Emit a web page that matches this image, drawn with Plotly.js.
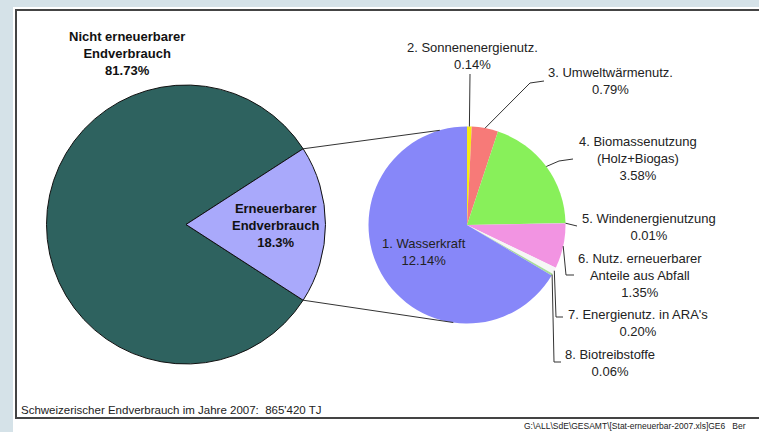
<!DOCTYPE html>
<html><head><meta charset="utf-8">
<script src="https://cdn.plot.ly/plotly-3.0.1.min.js"></script>
<style>html,body{margin:0;padding:0;background:#d5e2e8;overflow:hidden;}#chart{width:759px;height:432px;}</style>
</head><body><div id="chart"></div>
<script>
// ---- data ----
const mainLabels = ['Nicht erneuerbarer<br>Endverbrauch', 'Erneuerbarer<br>Endverbrauch'];
const mainValues = [81.73, 18.27];
const mainPctText = ['81.73%', '18.3%'];
const mainColors = ['#2e625f', '#a9a9fb'];

const subLabels = ['2. Sonnenenergienutz.', '3. Umweltwärmenutz.', '4. Biomassenutzung<br>(Holz+Biogas)',
  '5. Windenergienutzung', '6. Nutz. erneuerbarer<br>Anteile aus Abfall', "7. Energienutz. in ARA's",
  '8. Biotreibstoffe', '1. Wasserkraft'];
const subValues = [0.14, 0.79, 3.58, 0.01, 1.35, 0.20, 0.06, 12.14];
const subColors = ['#f6ec10', '#f77a78', '#88f05a', '#c0c0c0', '#f294e2', '#f6f6f6', '#a6dc98', '#8787f9'];

const noteText = "Schweizerischer Endverbrauch im Jahre 2007:  865'420 TJ";
const footText = "G:\\ALL\\SdE\\GESAMT\\[Stat-erneuerbar-2007.xls]GE6   Ber";

// ---- geometry (pixels) ----
const W = 759, H = 432;
const L = {cx: 186, cy: 224.5, r: 139.5};
const R = {cx: 467, cy: 225, r: 98.5};
function dom(c) {
  return {x: [(c.cx - c.r) / W, (c.cx + c.r) / W], y: [(H - c.cy - c.r) / H, (H - c.cy + c.r) / H]};
}
function rim(c, deg, k) { const a = deg * Math.PI / 180; const rr = c.r * (k || 1);
  return [c.cx + rr * Math.sin(a), c.cy - rr * Math.cos(a)]; }

const mainTotal = mainValues.reduce((a, b) => a + b, 0);
const renewSpan = mainValues[1] / mainTotal * 360;
// first slice (non-renewable) starts below the renewable wedge, which is centred at 3 o'clock
const mainRot = 90 + renewSpan / 2;

const subTotal = subValues.reduce((a, b) => a + b, 0);
const subMid = []; let acc = 0;
subValues.forEach(v => { subMid.push((acc + v / 2) / subTotal * 360); acc += v; });

const traces = [
  {type: 'pie', values: mainValues, labels: ['Nicht erneuerbarer Endverbrauch', 'Erneuerbarer Endverbrauch'],
   sort: false, direction: 'clockwise', rotation: mainRot, domain: dom(L),
   marker: {colors: mainColors, line: {color: '#111', width: 1}}, textinfo: 'none', hoverinfo: 'label+percent', showlegend: false},
  {type: 'pie', values: subValues, labels: subLabels.map(s => s.replace('<br>', ' ')),
   sort: false, direction: 'clockwise', rotation: 0, domain: dom(R),
   marker: {colors: subColors, line: {color: 'rgba(0,0,0,0)', width: 0}}, textinfo: 'none', hoverinfo: 'label+value', showlegend: false}
];

const shapes = [
  {type: 'rect', xref: 'x', yref: 'y', x0: 13, x1: 770, y0: 7, y1: 440, fillcolor: '#ffffff', line: {width: 0}, layer: 'below'},
  {type: 'rect', xref: 'x', yref: 'y', x0: 16, x1: 770, y0: 10, y1: 418, fillcolor: 'rgba(0,0,0,0)', line: {color: '#444', width: 2}, layer: 'below'}
];
function seg(pts, w) {
  let p = 'M' + pts.map(q => q[0].toFixed(1) + ',' + q[1].toFixed(1)).join(' L');
  shapes.push({type: 'path', xref: 'x', yref: 'y', path: p, line: {color: '#333', width: w || 1}});
}
// connectors between pies
const upL = rim(L, 90 - renewSpan / 2), loL = rim(L, 90 + renewSpan / 2);
seg([upL, rim(R, -16)], 1);
seg([loL, rim(R, 188)], 1);

// leader lines of the second pie
const lead = [
  [[470, 74]],
  [[530, 83], [544, 81]],
  [[559, 161], [573, 159]],
  [[577, 226]],
  [[566, 275], [574, 275]],
  [[556, 317], [563, 317]],
  [[554, 362], [561, 362]]
];
lead.forEach((pts, i) => seg([rim(R, subMid[i])].concat(pts), 1));

const labelPos = [[472, 55.5], [610, 81], [638, 158], [649, 226.5], [640, 275], [638, 322.5], [610, 362.5], [424, 251.5]];
const annotations = [];
const fontN = {family: 'Liberation Sans, Arial, sans-serif', size: 13, color: '#222'};
subLabels.forEach((s, i) => annotations.push({x: labelPos[i][0], y: labelPos[i][1], xref: 'x', yref: 'y',
  text: s + '<br>' + subValues[i].toFixed(2) + '%', showarrow: false, font: fontN, align: 'center'}));
const mainPos = [[127, 53], [275, 225]];
mainLabels.forEach((s, i) => annotations.push({x: mainPos[i][0], y: mainPos[i][1], xref: 'x', yref: 'y',
  text: '<b>' + s + '<br>' + mainPctText[i] + '</b>', showarrow: false,
  font: {family: 'Liberation Sans, Arial, sans-serif', size: 13, color: '#111'}, align: 'center'}));
annotations.push({x: 19, y: 410, xref: 'x', yref: 'y', xanchor: 'left', text: noteText, showarrow: false,
  font: {family: 'Liberation Sans, Arial, sans-serif', size: 11.5, color: '#222'}});
annotations.push({x: 522, y: 426, xref: 'x', yref: 'y', xanchor: 'left', text: footText, showarrow: false,
  font: {family: 'Liberation Sans, Arial, sans-serif', size: 8.5, color: '#222'}});

const layout = {
  width: W, height: H, margin: {l: 0, r: 0, t: 0, b: 0},
  paper_bgcolor: '#d5e2e8', plot_bgcolor: 'rgba(0,0,0,0)',
  xaxis: {range: [0, W], visible: false, fixedrange: true},
  yaxis: {range: [H, 0], visible: false, fixedrange: true},
  shapes: shapes, annotations: annotations, showlegend: false
};
Plotly.newPlot('chart', traces, layout, {displayModeBar: false, staticPlot: true});
</script></body></html>
